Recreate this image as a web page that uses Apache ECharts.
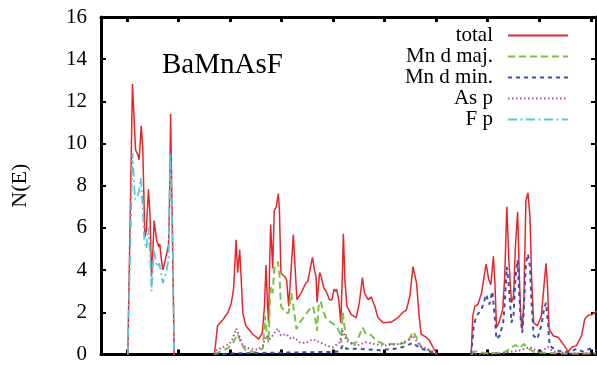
<!DOCTYPE html>
<html>
<head>
<meta charset="utf-8">
<script src="https://cdn.jsdelivr.net/npm/echarts@6/dist/echarts.min.js"></script>
<style>
  html, body { margin: 0; padding: 0; background: #fff; }
  #chart { width: 597px; height: 365px; }
</style>
</head>
<body>
<div id="chart"></div>
<script>
// Density of states of BaMnAsF: energy (eV) vs N(E)
const seriesNames = ['total', 'Mn d maj.', 'Mn d min.', 'As p', 'F p'];
const yTicks = [0, 2, 4, 6, 8, 10, 12, 14, 16];
const energyTicks = [-7, -6, -5, -4, -3, -2, -1, 0, 1, 2];

const totalDos = [
  [-6.98, 0], [-6.89, 12.82], [-6.83, 9.7], [-6.79, 9.5], [-6.76, 9.23], [-6.72, 10.84],
  [-6.69, 9.78], [-6.65, 5.57], [-6.62, 5.9], [-6.58, 7.83], [-6.55, 6.66], [-6.52, 3.7],
  [-6.49, 5.1], [-6.47, 6.35], [-6.42, 5.41], [-6.38, 5.1], [-6.36, 5.25], [-6.34, 4.72],
  [-6.30, 4.0], [-6.24, 4.63], [-6.19, 5.18], [-6.17, 7.3], [-6.15, 11.4], [-6.14, 9.78],
  [-6.08, 0], [-5.7, null], [-5.30, 0],
  [-5.24, 1.36], [-5.14, 1.64], [-5.04, 1.98], [-4.98, 2.37], [-4.93, 3.07], [-4.88, 5.44],
  [-4.85, 3.88], [-4.81, 4.97], [-4.78, 3.54], [-4.75, 1.98], [-4.69, 1.36], [-4.56, 0.97],
  [-4.44, 0.73], [-4.37, 1.04], [-4.33, 2.29], [-4.30, 4.24], [-4.27, 2.29], [-4.25, 1.51],
  [-4.23, 4.16], [-4.21, 6.16], [-4.19, 5.1], [-4.17, 4.08], [-4.14, 6.82], [-4.10, 7.0],
  [-4.06, 7.63], [-4.04, 6.82], [-4.01, 3.85], [-3.94, 3.7], [-3.90, 3.54], [-3.86, 2.29],
  [-3.83, 3.38], [-3.77, 5.69], [-3.73, 3.85], [-3.70, 2.6], [-3.62, 2.91], [-3.53, 3.38],
  [-3.49, 3.46], [-3.46, 3.38], [-3.40, 4.6], [-3.36, 4.0], [-3.33, 3.7], [-3.31, 2.48],
  [-3.26, 3.88], [-3.23, 3.7], [-3.18, 3.15], [-3.13, 2.99], [-3.07, 2.6], [-3.02, 2.6],
  [-2.98, 3.1], [-2.95, 2.99], [-2.93, 3.1], [-2.89, 2.6], [-2.85, 1.51], [-2.82, 3.7],
  [-2.80, 5.72], [-2.77, 3.54], [-2.73, 2.29], [-2.65, 1.9], [-2.55, 1.75], [-2.49, 2.45],
  [-2.43, 3.65], [-2.39, 2.91], [-2.32, 2.6], [-2.26, 2.73], [-2.19, 2.29], [-2.13, 1.75],
  [-2.03, 1.51], [-1.87, 1.54], [-1.74, 1.75], [-1.64, 2.01], [-1.58, 2.09], [-1.51, 2.76],
  [-1.45, 4.16], [-1.38, 3.38], [-1.33, 1.82], [-1.29, 0.97], [-1.19, 0.81], [-1.13, 0.66],
  [-1.06, 0.34], [-0.98, 0], [-0.6, null], [-0.32, 0],
  [-0.29, 1.82], [-0.25, 2.29], [-0.19, 2.37], [-0.12, 2.91], [-0.07, 3.7], [-0.03, 4.29],
  [0.02, 3.54], [0.06, 3.31], [0.11, 4.66], [0.14, 3.38], [0.17, 1.28], [0.22, 1.51],
  [0.29, 2.14], [0.33, 3.7], [0.37, 7.0], [0.41, 4.48], [0.46, 2.45], [0.50, 2.76],
  [0.54, 5.25], [0.58, 6.77], [0.61, 4.0], [0.64, 1.82], [0.67, 1.2], [0.70, 2.45],
  [0.74, 7.28], [0.78, 7.67], [0.82, 6.5], [0.85, 3.7], [0.89, 1.51], [0.96, 1.36],
  [1.04, 1.82], [1.09, 3.23], [1.13, 4.32], [1.16, 3.23], [1.19, 1.2], [1.27, 0.89],
  [1.37, 0.81], [1.46, 0.5], [1.56, 0.14], [1.63, 0.34], [1.72, 0.42], [1.82, 0.89],
  [1.88, 1.67], [1.95, 1.86], [2.03, 1.9], [2.11, 2.06]
];

const mnDMaj = [
  [-5.30, 0], [-5.27, 0.05], [-5.14, 0.2], [-5.04, 0.3], [-4.95, 0.5], [-4.85, 0.97], [-4.78, 0.5],
  [-4.69, 0.19], [-4.49, 0.1], [-4.36, 0.3], [-4.32, 1.82], [-4.28, 0.9], [-4.25, 0.58],
  [-4.22, 2.91], [-4.20, 3.2], [-4.17, 2.91], [-4.14, 4.08], [-4.07, 4.4], [-4.04, 3.85],
  [-4.01, 2.29], [-3.92, 1.98], [-3.86, 1.98], [-3.81, 2.91], [-3.78, 2.94], [-3.75, 1.98],
  [-3.71, 1.2], [-3.65, 1.51], [-3.55, 1.82], [-3.46, 2.14], [-3.39, 2.29], [-3.36, 1.98],
  [-3.31, 1.12], [-3.28, 2.29], [-3.24, 2.53], [-3.20, 2.14], [-3.13, 1.67], [-3.03, 1.51],
  [-2.94, 1.36], [-2.87, 1.04], [-2.84, 0.58], [-2.81, 1.98], [-2.78, 1.36], [-2.74, 0.81],
  [-2.65, 0.5], [-2.55, 0.58], [-2.49, 0.9], [-2.43, 1.28], [-2.36, 0.97], [-2.26, 0.92],
  [-2.16, 0.66], [-2.03, 0.5], [-1.71, 0.5], [-1.55, 0.58], [-1.45, 1.08], [-1.38, 0.81],
  [-1.29, 0.34], [-1.13, 0.19], [-1.03, 0], [-0.6, null], [-0.32, 0],
  [-0.25, 0.15], [-0.16, 0.1], [0.04, 0.05], [0.33, 0.1], [0.47, 0.35], [0.54, 0.45],
  [0.62, 0.3], [0.70, 0.5], [0.78, 0.3], [0.91, 0.1], [1.40, 0.05], [2.1, 0.05]
];

const mnDMin = [
  [-5.30, 0], [-5.01, 0.05], [-4.23, 0.08], [-3.65, 0.1], [-3.07, 0.12], [-2.87, 0.15],
  [-2.81, 0.45], [-2.74, 0.27], [-2.49, 0.27], [-2.10, 0.2], [-1.71, 0.3], [-1.45, 0.55],
  [-1.32, 0.3], [-1.13, 0.15], [-0.98, 0], [-0.6, null], [-0.32, 0],
  [-0.27, 1.36], [-0.22, 1.82], [-0.12, 2.14], [-0.06, 2.6], [-0.03, 2.84], [0.03, 2.37],
  [0.09, 2.99], [0.14, 1.67], [0.17, 0.73], [0.23, 0.89], [0.30, 1.51], [0.33, 2.45],
  [0.37, 4.16], [0.41, 3.23], [0.46, 1.51], [0.50, 1.82], [0.54, 3.7], [0.58, 4.48],
  [0.61, 2.91], [0.64, 1.67], [0.67, 1.04], [0.70, 2.14], [0.74, 4.32], [0.78, 4.76],
  [0.82, 4.16], [0.85, 2.45], [0.89, 0.89], [0.96, 0.73], [1.04, 1.36], [1.09, 2.14],
  [1.13, 2.45], [1.17, 1.51], [1.20, 0.42], [1.33, 0.19], [1.59, 0.1], [1.72, 0.27],
  [1.84, 0.14], [1.98, 0.27], [2.11, 0.19]
];

const asP = [
  [-5.30, 0], [-5.27, 0.19], [-5.14, 0.34], [-5.01, 0.5], [-4.95, 0.73], [-4.88, 1.23], [-4.82, 0.9],
  [-4.75, 0.42], [-4.62, 0.27], [-4.46, 0.23], [-4.36, 0.42], [-4.30, 0.9], [-4.23, 0.73],
  [-4.17, 0.9], [-4.07, 1.23], [-4.01, 0.9], [-3.91, 0.97], [-3.81, 0.73], [-3.75, 0.81],
  [-3.65, 0.58], [-3.53, 0.55], [-3.39, 0.73], [-3.26, 0.58], [-3.13, 0.42], [-3.00, 0.34],
  [-2.87, 0.58], [-2.81, 1.12], [-2.74, 0.66], [-2.55, 0.42], [-2.36, 0.58], [-2.03, 0.42],
  [-1.71, 0.5], [-1.51, 0.73], [-1.45, 0.9], [-1.32, 0.42], [-1.06, 0.14], [-0.98, 0],
  [-0.6, null], [-0.32, 0], [0.23, 0.05], [0.62, 0.2], [0.82, 0.35], [1.01, 0.1], [1.17, 0.35],
  [1.26, 0.15], [1.59, 0.05], [2.1, 0.05]
];

const fP = [
  [-6.98, 0], [-6.89, 9.55], [-6.84, 7.36], [-6.79, 7.5], [-6.76, 7.77], [-6.73, 8.37],
  [-6.69, 6.97], [-6.66, 5.43], [-6.62, 5.02], [-6.58, 6.03], [-6.55, 4.79], [-6.52, 3.0],
  [-6.49, 4.32], [-6.47, 4.94], [-6.42, 4.16], [-6.37, 4.32], [-6.30, 3.38], [-6.24, 3.85],
  [-6.19, 4.49], [-6.16, 9.55], [-6.12, 7.3], [-6.08, 0]
];

const serif = '"Liberation Serif", "DejaVu Serif", serif';
const dosData = [totalDos, mnDMaj, mnDMin, asP, fP];
const colors = ['#e8252b', '#7cc142', '#3a4db0', '#b24aa6', '#5cc5dd'];
const dashes = ['solid', [7, 4], [4, 4], [1.5, 2.5], [9, 3.5, 2, 3.5]];
const widths = [1.5, 2, 2, 2, 1.8];

const chart = echarts.init(document.getElementById('chart'), null, { renderer: 'canvas' });

// the four axes together make the closed frame, with inward ticks on every side
const energyAxis = {
  min: -7.5,
  max: 2.1,
  axisLine: { show: true, onZero: false, lineStyle: { color: '#000', width: 3 } },
  axisTick: { show: true, inside: true, length: 5, customValues: energyTicks, lineStyle: { color: '#000', width: 3 } },
  axisLabel: { show: false },
  splitLine: { show: false }
};

const valueAxis = {
  min: 0,
  max: 16,
  interval: 2,
  axisLine: { show: true, onZero: false, lineStyle: { color: '#000', width: 3 } },
  axisTick: { show: true, inside: true, length: 5, lineStyle: { color: '#000', width: 2 } },
  splitLine: { show: false }
};

chart.setOption({
  animation: false,
  backgroundColor: '#fff',
  title: {
    text: 'BaMnAsF',
    left: 157,
    top: 46,
    textStyle: { fontFamily: serif, fontSize: 29, fontWeight: 'normal', color: '#000' }
  },
  legend: {
    orient: 'vertical',
    right: 23,
    top: 20,
    align: 'right',
    itemWidth: 60,
    itemHeight: 23,
    itemGap: 0,
    data: seriesNames,
    itemStyle: { opacity: 0, borderWidth: 0 },
    textStyle: { fontFamily: serif, fontSize: 21, color: '#000', padding: [0, 10, 0, 0] }
  },
  grid: { left: 101, right: 1, top: 17, bottom: 6 },
  xAxis: [
    Object.assign({ type: 'value', position: 'bottom' }, energyAxis),
    Object.assign({ type: 'value', position: 'top' }, energyAxis)
  ],
  yAxis: [
    Object.assign({
      type: 'value',
      position: 'left',
      name: 'N(E)',
      nameLocation: 'middle',
      nameRotate: 90,
      nameGap: 70,
      nameTextStyle: { fontFamily: serif, fontSize: 22, color: '#000' },
      axisLabel: {
        show: true, margin: 14, fontFamily: serif, fontSize: 21, color: '#000',
        customValues: yTicks
      }
    }, valueAxis),
    Object.assign({ type: 'value', position: 'right', axisLabel: { show: false } }, valueAxis)
  ],
  series: seriesNames.map((name, i) => ({
    name: name,
    type: 'line',
    xAxisIndex: 0,
    yAxisIndex: 0,
    symbol: 'none',
    showSymbol: false,
    connectNulls: false,
    z: 2 + i,
    color: colors[i],
    lineStyle: { color: colors[i], width: widths[i], type: dashes[i] },
    data: dosData[i]
  }))
});
</script>
</body>
</html>
